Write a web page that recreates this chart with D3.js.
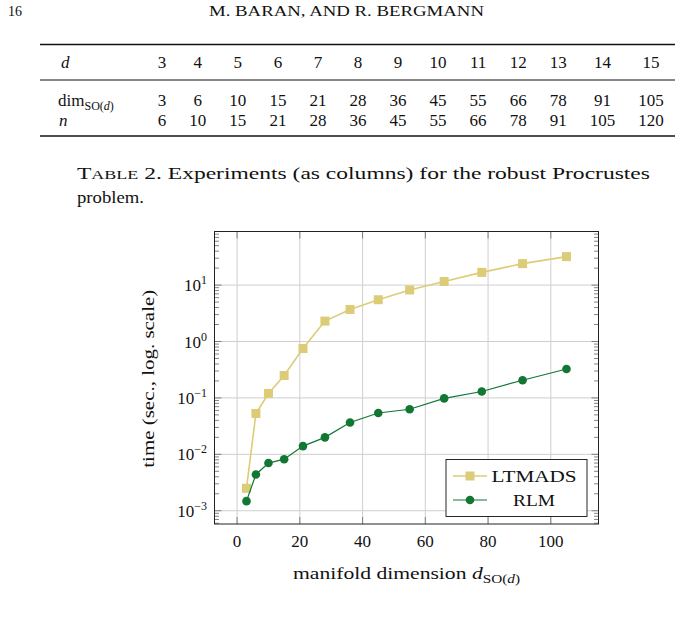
<!DOCTYPE html>
<html>
<head>
<meta charset="utf-8">
<script src="https://cdn.jsdelivr.net/npm/d3@7"></script>
<style>
  body { margin: 0; background: #fff; }
  svg text, svg tspan { font-family: "Liberation Serif", "DejaVu Serif", serif; fill: #111; }
</style>
</head>
<body>
<div id="page"></div>
<script>
// table 2 data
const dRow = [3, 4, 5, 6, 7, 8, 9, 10, 11, 12, 13, 14, 15];
const dimRow = [3, 6, 10, 15, 21, 28, 36, 45, 55, 66, 78, 91, 105];
const nRow = [6, 10, 15, 21, 28, 36, 45, 55, 66, 78, 91, 105, 120];

// timings (sec.)
const ltmads = [0.0025, 0.053, 0.12, 0.25, 0.75, 2.3, 3.7, 5.5, 8.2, 11.6, 16.8, 24, 32];
const rlm = [0.00148, 0.0044, 0.0070, 0.0082, 0.014, 0.020, 0.0367, 0.054, 0.063, 0.098, 0.13, 0.206, 0.326];

const xTicks = [0, 20, 40, 60, 80, 100];
const yExps = [-3, -2, -1, 0, 1];

const W = 682, H = 617;
const svg = d3.select("#page").append("svg")
    .attr("width", W)
    .attr("height", H)
    .attr("font-family", "Liberation Serif, serif");

// stretch a text element to a given width
function fit(t, len) {
  t.attr("textLength", len).attr("lengthAdjust", "spacingAndGlyphs");
  return t;
}

// ---- running head ----
svg.append("text").attr("x", 8).attr("y", 16)
    .style("font-size", "14px").text("16");
fit(svg.append("text").attr("x", 209).attr("y", 16).style("font-size", "14px"), 275)
    .text("M. BARAN, AND R. BERGMANN");

// ---- table ----
const tLeft = 40, tRight = 675;
const tfont = 17;
svg.append("line").attr("x1", tLeft).attr("x2", tRight).attr("y1", 44.5).attr("y2", 44.5)
    .attr("stroke", "#111").attr("stroke-width", 1.6);
svg.append("line").attr("x1", tLeft).attr("x2", tRight).attr("y1", 80).attr("y2", 80)
    .attr("stroke", "#111").attr("stroke-width", 1);
svg.append("line").attr("x1", tLeft).attr("x2", tRight).attr("y1", 136).attr("y2", 136)
    .attr("stroke", "#111").attr("stroke-width", 1.6);

const rowsY = [68, 106, 126];
const labelX = 58;
svg.append("text").attr("x", labelX + 3).attr("y", rowsY[0]).style("font-size", tfont + "px")
    .style("font-style", "italic").text("d");
const dimLab = svg.append("text").attr("x", labelX).attr("y", rowsY[1]).style("font-size", tfont + "px");
dimLab.append("tspan").text("dim");
dimLab.append("tspan").attr("dy", 4).style("font-size", "12px").text("SO(");
dimLab.append("tspan").style("font-size", "12px").style("font-style", "italic").text("d");
dimLab.append("tspan").style("font-size", "12px").text(")");
svg.append("text").attr("x", labelX + 1).attr("y", rowsY[2]).style("font-size", tfont + "px")
    .style("font-style", "italic").text("n");

const cols = dRow.map((d, i) => [d, dimRow[i], nRow[i]]);
const cells = svg.append("g").style("font-size", tfont + "px").attr("text-anchor", "middle");
const colTexts = cols.map(c => c.map((v, r) => cells.append("text").attr("y", rowsY[r]).text(v)));
const widths = colTexts.map(ts => d3.max(ts, t => t.node().getComputedTextLength()));
// fit column separation between first and last column centres
const firstC = 162, lastC = 651;
let pairSum = 0;
for (let i = 0; i < widths.length - 1; i++) pairSum += (widths[i] + widths[i + 1]) / 2;
const sep = (lastC - firstC - pairSum) / (widths.length - 1);
let cx = firstC;
colTexts.forEach((ts, i) => {
  if (i > 0) cx += (widths[i - 1] + widths[i]) / 2 + sep;
  ts.forEach(t => t.attr("x", cx));
});

// ---- caption ----
const cap = fit(svg.append("text").attr("x", 77).attr("y", 179).style("font-size", "17px"), 573);
cap.append("tspan").text("T");
cap.append("tspan").style("font-size", "13px").text("ABLE");
cap.append("tspan").text(" 2. Experiments (as columns) for the robust Procrustes");
fit(svg.append("text").attr("x", 77).attr("y", 203).style("font-size", "17px"), 67).text("problem.");

// ---- plot ----
const plot = { left: 214.5, right: 598.5, top: 231.5, bottom: 524 };
const x = d3.scaleLinear().domain([-7.2, 115.2]).range([plot.left, plot.right]);
const y = d3.scaleLog().domain([Math.pow(10, -3.235), Math.pow(10, 1.95)]).range([plot.bottom, plot.top]);

const g = svg.append("g");

// grid
g.append("g").selectAll("line").data(xTicks).join("line")
    .attr("x1", d => x(d)).attr("x2", d => x(d))
    .attr("y1", plot.top).attr("y2", plot.bottom)
    .attr("stroke", "#cfcfcf").attr("stroke-width", 1);
g.append("g").selectAll("line").data(yExps).join("line")
    .attr("y1", d => y(Math.pow(10, d))).attr("y2", d => y(Math.pow(10, d)))
    .attr("x1", plot.left).attr("x2", plot.right)
    .attr("stroke", "#cfcfcf").attr("stroke-width", 1);

// ticks
const ticks = g.append("g").attr("stroke", "#666").attr("stroke-width", 0.8);
xTicks.forEach(t => {
  ticks.append("line").attr("x1", x(t)).attr("x2", x(t)).attr("y1", plot.bottom).attr("y2", plot.bottom - 7);
  ticks.append("line").attr("x1", x(t)).attr("x2", x(t)).attr("y1", plot.top).attr("y2", plot.top + 7);
});
const minor = [];
for (let e = -4; e <= 1; e++) for (let k = 2; k <= 9; k++) {
  const v = k * Math.pow(10, e);
  if (v > y.domain()[0] && v < y.domain()[1]) minor.push(v);
}
minor.forEach(v => {
  ticks.append("line").attr("x1", plot.left).attr("x2", plot.left + 4.5).attr("y1", y(v)).attr("y2", y(v));
  ticks.append("line").attr("x1", plot.right).attr("x2", plot.right - 4.5).attr("y1", y(v)).attr("y2", y(v));
});
yExps.forEach(e => {
  const v = Math.pow(10, e);
  ticks.append("line").attr("x1", plot.left).attr("x2", plot.left + 7).attr("y1", y(v)).attr("y2", y(v));
  ticks.append("line").attr("x1", plot.right).attr("x2", plot.right - 7).attr("y1", y(v)).attr("y2", y(v));
});

// frame
g.append("rect").attr("x", plot.left).attr("y", plot.top)
    .attr("width", plot.right - plot.left).attr("height", plot.bottom - plot.top)
    .attr("fill", "none").attr("stroke", "#222").attr("stroke-width", 1);

// tick labels
g.append("g").style("font-size", "17px").attr("text-anchor", "middle")
  .selectAll("text").data(xTicks).join("text")
    .attr("x", d => x(d)).attr("y", plot.bottom + 23).text(d => d);
const yl = g.append("g").style("font-size", "17px").attr("text-anchor", "end")
  .selectAll("text").data(yExps).join("text")
    .attr("x", 207).attr("y", d => y(Math.pow(10, d)) + 6);
yl.append("tspan").text("10");
yl.append("tspan").attr("dy", -7).style("font-size", "12px").text(d => d < 0 ? "\u2212" + (-d) : d);

// axis labels
const xlab = fit(svg.append("text").attr("x", 293).attr("y", 579).style("font-size", "17px"), 227);
xlab.append("tspan").text("manifold dimension ");
xlab.append("tspan").style("font-style", "italic").text("d");
xlab.append("tspan").attr("dy", 4).style("font-size", "12px").text("SO(");
xlab.append("tspan").style("font-size", "12px").style("font-style", "italic").text("d");
xlab.append("tspan").style("font-size", "12px").text(")");
fit(svg.append("text").attr("transform", `translate(154,${(plot.top + plot.bottom) / 2 + 1}) rotate(-90)`)
    .attr("text-anchor", "middle").style("font-size", "17px"), 178)
    .text("time (sec., log. scale)");

// series
const sand = "#DDCC77", green = "#117733";
const line = d3.line().x((d, i) => x(dimRow[i])).y(d => y(d));
g.append("path").datum(ltmads).attr("d", line).attr("fill", "none")
    .attr("stroke", sand).attr("stroke-width", 1.6);
g.append("g").selectAll("rect").data(ltmads).join("rect")
    .attr("x", (d, i) => x(dimRow[i]) - 4.5).attr("y", d => y(d) - 4.5)
    .attr("width", 9).attr("height", 9).attr("fill", sand);
g.append("path").datum(rlm).attr("d", line).attr("fill", "none")
    .attr("stroke", green).attr("stroke-width", 1.2);
g.append("g").selectAll("circle").data(rlm).join("circle")
    .attr("cx", (d, i) => x(dimRow[i])).attr("cy", d => y(d))
    .attr("r", 4.3).attr("fill", green);

// legend
const leg = svg.append("g").attr("transform", "translate(446,459.5)");
leg.append("rect").attr("width", 141).attr("height", 57)
    .attr("fill", "#fff").attr("stroke", "#111").attr("stroke-width", 0.9);
const entries = [
  { name: "LTMADS", color: sand, shape: "square", w: 1.6, len: 85 },
  { name: "RLM", color: green, shape: "circle", w: 1.2, len: 42 }
];
entries.forEach((e, i) => {
  const yy = 16.5 + i * 24;
  leg.append("line").attr("x1", 7).attr("x2", 41).attr("y1", yy).attr("y2", yy)
      .attr("stroke", e.color).attr("stroke-width", e.w);
  if (e.shape === "square")
    leg.append("rect").attr("x", 24 - 4.5).attr("y", yy - 4.5).attr("width", 9).attr("height", 9).attr("fill", e.color);
  else
    leg.append("circle").attr("cx", 24).attr("cy", yy).attr("r", 4.3).attr("fill", e.color);
  fit(leg.append("text").attr("x", 88 - e.len / 2).attr("y", yy + 6).style("font-size", "17px"), e.len)
      .text(e.name);
});
</script>
</body>
</html>
